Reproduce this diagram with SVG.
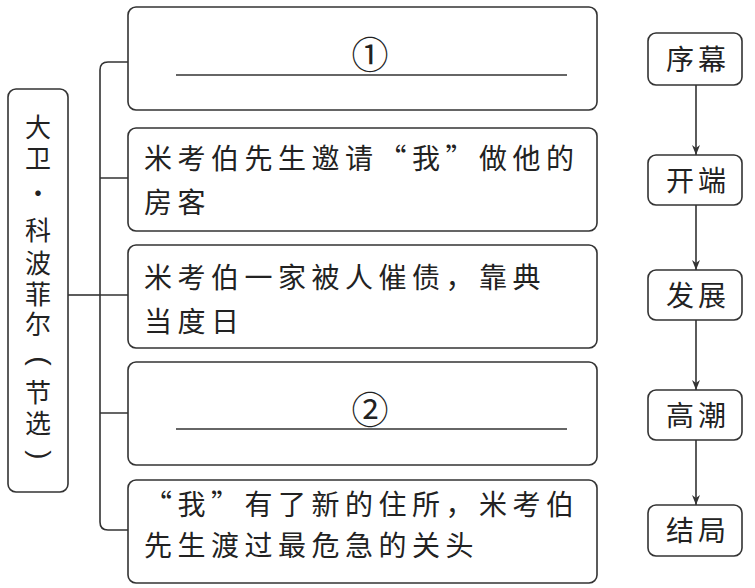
<svg xmlns="http://www.w3.org/2000/svg" width="755" height="588" viewBox="0 0 755 588">
<defs>
<style>
.box{fill:#fff;stroke:#333;stroke-width:1.6}
.ln{fill:none;stroke:#333;stroke-width:1.6}
.t{font-family:"Noto Sans CJK SC","Noto Sans",sans-serif;font-size:28px;fill:#222;letter-spacing:5.5px}
.v{font-family:"Noto Sans CJK SC","Noto Sans",sans-serif;font-size:26px;fill:#222;text-anchor:middle}
.p{font-family:"Liberation Sans","Noto Sans CJK SC",sans-serif;font-size:28px;fill:#222;text-anchor:middle}
.r{font-family:"Noto Sans CJK SC","Noto Sans",sans-serif;font-size:28px;fill:#222;text-anchor:middle;letter-spacing:4px}
.n{font-family:"Noto Sans CJK SC","DejaVu Sans",sans-serif;font-size:37px;fill:#222;text-anchor:middle}
</style>
<marker id="ah" viewBox="0 0 10 10" refX="10" refY="5" markerWidth="10" markerHeight="10" markerUnits="userSpaceOnUse" orient="auto">
<path d="M0,1 L10,5 L0,9 L3,5 Z" fill="#333"/>
</marker>
</defs>
<rect width="755" height="588" fill="#fff"/>
<g id="connectors">
<path class="ln" d="M68,295 H100"/>
<path class="ln" d="M128,62 H108 Q100,62 100,70 V522 Q100,530 108,530 H128"/>
<path class="ln" d="M100,178 H128 M100,295 H128 M100,413 H128"/>
<path class="ln" d="M696,85 V155" marker-end="url(#ah)"/>
<path class="ln" d="M696,205 V270" marker-end="url(#ah)"/>
<path class="ln" d="M696,320 V390" marker-end="url(#ah)"/>
<path class="ln" d="M696,440 V505" marker-end="url(#ah)"/>
</g>
<g id="title">
<rect class="box" x="8" y="89" width="60" height="403" rx="8"/>
<text class="v"><tspan x="38" y="137">大</tspan><tspan x="38" y="168">卫</tspan><tspan x="38" y="203">·</tspan><tspan x="38" y="240">科</tspan><tspan x="38" y="273">波</tspan><tspan x="38" y="304">菲</tspan><tspan x="38" y="334">尔</tspan><tspan x="38" y="402">节</tspan><tspan x="38" y="433">选</tspan></text>
<text class="p" x="38" y="368" transform="rotate(90 38 361)">(</text>
<text class="p" x="38" y="462" transform="rotate(90 38 455)">)</text>
</g>
<g id="box1">
<rect class="box" x="128" y="7" width="469" height="103" rx="8"/>
<text class="n" x="370" y="69">①</text>
<path class="ln" d="M176,75 H567"/>
</g>
<g id="box2">
<rect class="box" x="128" y="128" width="469" height="103" rx="8"/>
<text class="t" x="144" y="169">米考伯先生邀请“我”做他的</text>
<text class="t" x="144" y="213">房客</text>
</g>
<g id="box3">
<rect class="box" x="128" y="245" width="469" height="103" rx="8"/>
<text class="t" x="144" y="288">米考伯一家被人催债，靠典</text>
<text class="t" x="144" y="332">当度日</text>
</g>
<g id="box4">
<rect class="box" x="128" y="362" width="469" height="103" rx="8"/>
<text class="n" x="370" y="424">②</text>
<path class="ln" d="M176,429 H567"/>
</g>
<g id="box5">
<rect class="box" x="128" y="480" width="469" height="103" rx="8"/>
<text class="t" x="144" y="515">“我”有了新的住所，米考伯</text>
<text class="t" x="144" y="556">先生渡过最危急的关头</text>
</g>
<g id="s1"><rect class="box" x="648" y="33" width="94" height="52" rx="8"/><text class="r" x="698" y="70">序幕</text></g>
<g id="s2"><rect class="box" x="648" y="155" width="94" height="50" rx="8"/><text class="r" x="698" y="191">开端</text></g>
<g id="s3"><rect class="box" x="648" y="270" width="94" height="50" rx="8"/><text class="r" x="698" y="306">发展</text></g>
<g id="s4"><rect class="box" x="648" y="390" width="94" height="50" rx="8"/><text class="r" x="698" y="426">高潮</text></g>
<g id="s5"><rect class="box" x="648" y="505" width="94" height="51" rx="8"/><text class="r" x="698" y="541">结局</text></g>
</svg>
